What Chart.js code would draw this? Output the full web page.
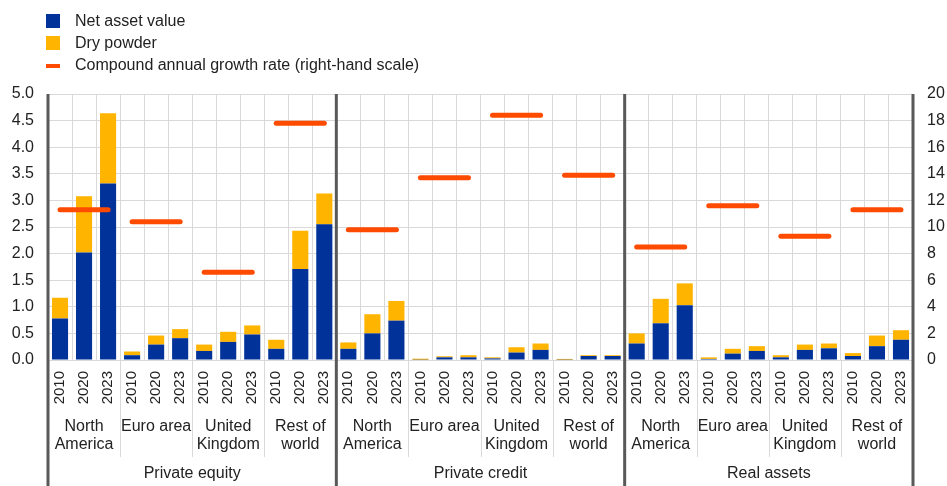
<!DOCTYPE html>
<html>
<head>
<meta charset="utf-8">
<script src="https://cdn.jsdelivr.net/npm/chart.js@4"></script>
<style>
  html, body { margin: 0; padding: 0; background: #fff; }
  #wrap { position: relative; width: 947px; height: 486px; font-family: "Liberation Sans", Arial, sans-serif; }
  #legend { position: absolute; left: 46px; top: 10px; font-size: 16px; color: #222; }
  .item { height: 22px; line-height: 22px; display: flex; align-items: center; }
  .swatch { width: 14px; height: 14px; margin-right: 15px; }
  .dash { width: 14px; height: 4px; margin-right: 15px; margin-top: 1px; }
</style>
</head>
<body>
<div id="wrap">
  <canvas id="myChart" width="947" height="486"></canvas>
  <div id="legend"></div>
</div>
<script>
const assetClasses = ["Private equity", "Private credit", "Real assets"];
const regions = [["North", "America"], ["Euro area"], ["United", "Kingdom"], ["Rest of", "world"]];
const years = ["2010", "2020", "2023"];

// USD trillions, per asset class -> region -> year
const netAssetValue = [
  0.78, 2.02, 3.32,   0.09, 0.29, 0.41,   0.17, 0.34, 0.48,   0.21, 1.71, 2.55,
  0.21, 0.50, 0.74,   0.005, 0.05, 0.05,  0.03, 0.14, 0.19,   0.005, 0.075, 0.075,
  0.31, 0.69, 1.03,   0.02, 0.12, 0.17,   0.05, 0.19, 0.22,   0.075, 0.26, 0.38
];
const dryPowder = [
  0.39, 1.06, 1.32,   0.07, 0.17, 0.17,   0.12, 0.19, 0.17,   0.17, 0.72, 0.58,
  0.12, 0.36, 0.37,   0.02, 0.02, 0.04,   0.02, 0.10, 0.12,   0.015, 0.015, 0.015,
  0.19, 0.46, 0.41,   0.03, 0.09, 0.09,   0.04, 0.10, 0.09,   0.055, 0.20, 0.18
];
// percentages, one per asset class/region
const cagr = [
  11.3, 10.4, 6.6, 17.8,
  9.8, 13.7, 18.4, 13.9,
  8.5, 11.6, 9.3, 11.3
];

const BLUE = "#003299";
const YELLOW = "#FFB400";
const ORANGE = "#FF4B00";
const FONT = "Liberation Sans";

const labels = [];
const cagrLine = [];
for (let a = 0; a < assetClasses.length; a++) {
  for (let r = 0; r < regions.length; r++) {
    for (let y = 0; y < years.length; y++) {
      labels.push(years[y]);
      cagrLine.push(cagr[a * regions.length + r]);
    }
  }
}

// legend
const legendItems = [
  { text: "Net asset value", color: BLUE, cls: "swatch" },
  { text: "Dry powder", color: YELLOW, cls: "swatch" },
  { text: "Compound annual growth rate (right-hand scale)", color: ORANGE, cls: "dash" }
];
document.getElementById("legend").innerHTML = legendItems
  .map((it) => `<div class="item"><span class="${it.cls}" style="background:${it.color}"></span>${it.text}</div>`)
  .join("");

const groupLabels = {
  id: "groupLabels",
  afterDraw(chart) {
    const { ctx, chartArea } = chart;
    const x = chart.scales.x;
    const H = chart.height;
    const perClass = regions.length * years.length;
    const edge = (i) => (x.getPixelForValue(i - 1) + x.getPixelForValue(i)) / 2;
    ctx.save();

    // region separators below the axis
    ctx.strokeStyle = "#d9d9d9";
    ctx.lineWidth = 1;
    for (let i = years.length; i < labels.length; i += years.length) {
      if (i % perClass === 0) continue;
      const px = Math.round(edge(i)) + 0.5;
      ctx.beginPath();
      ctx.moveTo(px, chartArea.bottom);
      ctx.lineTo(px, chartArea.bottom + 97);
      ctx.stroke();
    }

    // asset class separators and frame
    ctx.strokeStyle = "#595959";
    ctx.lineWidth = 3;
    for (let a = 0; a <= assetClasses.length; a++) {
      let px;
      if (a === 0) px = chartArea.left;
      else if (a === assetClasses.length) px = chartArea.right;
      else px = edge(a * perClass);
      ctx.beginPath();
      ctx.moveTo(px, chartArea.top);
      ctx.lineTo(px, H);
      ctx.stroke();
    }

    ctx.fillStyle = "#222";
    ctx.font = `16px "${FONT}"`;
    ctx.textAlign = "center";
    ctx.textBaseline = "middle";
    for (let a = 0; a < assetClasses.length; a++) {
      for (let r = 0; r < regions.length; r++) {
        const first = (a * regions.length + r) * years.length;
        const cx = (x.getPixelForValue(first) + x.getPixelForValue(first + years.length - 1)) / 2;
        regions[r].forEach((line, k) => {
          ctx.fillText(line, cx, chartArea.bottom + 67 + k * 18);
        });
      }
      const cx = (x.getPixelForValue(a * perClass) + x.getPixelForValue((a + 1) * perClass - 1)) / 2;
      ctx.fillText(assetClasses[a], cx, chartArea.bottom + 114);
    }
    ctx.restore();
  }
};

const ctx = document.getElementById("myChart");
new Chart(ctx, {
  type: "bar",
  data: {
    labels: labels,
    datasets: [
      {
        type: "line",
        label: "Compound annual growth rate (right-hand scale)",
        data: cagrLine,
        yAxisID: "y1",
        borderColor: ORANGE,
        borderWidth: 5,
        borderCapStyle: "round",
        pointRadius: 0,
        order: 0,
        segment: {
          borderColor: (c) => (c.p0DataIndex % years.length === years.length - 1 ? "transparent" : ORANGE)
        }
      },
      {
        label: "Net asset value",
        data: netAssetValue,
        backgroundColor: BLUE,
        stack: "s",
        order: 1,
        barPercentage: 0.67,
        categoryPercentage: 1
      },
      {
        label: "Dry powder",
        data: dryPowder,
        backgroundColor: YELLOW,
        stack: "s",
        order: 1,
        barPercentage: 0.67,
        categoryPercentage: 1
      }
    ]
  },
  options: {
    responsive: false,
    animation: false,
    layout: { padding: { top: 94, left: 0, right: 0, bottom: 0 } },
    plugins: {
      legend: { display: false },
      tooltip: { enabled: false }
    },
    scales: {
      x: {
        stacked: true,
        afterFit(scale) { scale.height = 126; },
        grid: { color: "#d9d9d9", drawTicks: false, offset: true },
        border: { display: false },
        ticks: {
          autoSkip: false,
          minRotation: 90,
          maxRotation: 90,
          padding: 11,
          color: "#222",
          font: { family: FONT, size: 15 }
        }
      },
      y: {
        stacked: true,
        position: "left",
        min: 0,
        max: 5,
        afterFit(scale) { scale.width = 48; },
        grid: { color: "#d9d9d9", drawTicks: false },
        border: { display: false },
        ticks: {
          stepSize: 0.5,
          padding: 14,
          color: "#222",
          font: { family: FONT, size: 16 },
          callback: (v) => v.toFixed(1)
        }
      },
      y1: {
        position: "right",
        min: 0,
        max: 20,
        afterFit(scale) { scale.width = 34; },
        grid: { display: false, drawTicks: false },
        border: { display: false },
        ticks: {
          stepSize: 2,
          padding: 14,
          color: "#222",
          font: { family: FONT, size: 16 }
        }
      }
    }
  },
  plugins: [groupLabels]
});
</script>
</body>
</html>
